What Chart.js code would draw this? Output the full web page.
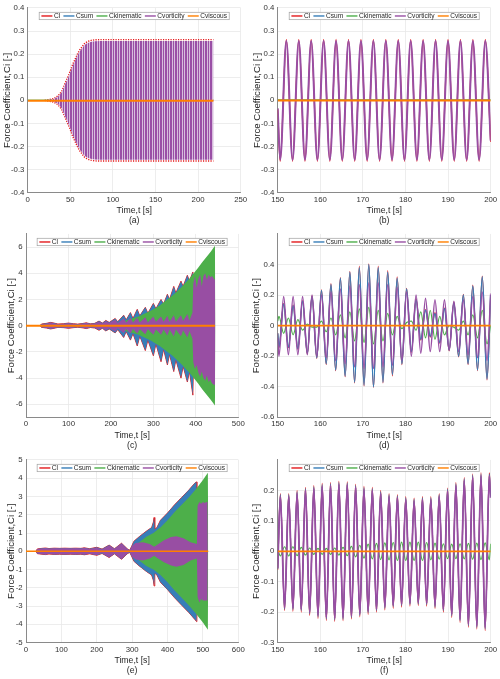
<!DOCTYPE html>
<html><head><meta charset="utf-8">
<script src="https://cdn.jsdelivr.net/npm/chart.js@4.4.0/dist/chart.umd.min.js"></script>
<style>
html,body{margin:0;padding:0;background:#fff;}
body{width:500px;height:679px;position:relative;overflow:hidden;}
canvas{position:absolute;}
</style></head>
<body>
<canvas id="pa"></canvas><canvas id="pb"></canvas>
<canvas id="pc"></canvas><canvas id="pd"></canvas>
<canvas id="pe"></canvas><canvas id="pf"></canvas>
<script>
// ---------------- data ----------------
const seriesNames = ['Cl','Csum','Ckinematic','Cvorticity','Cviscous'];
const seriesColors = ['#e41a1c','#377eb8','#4daf4a','#984ea3','#ff7f00'];

// tick values
const xTicksA = [0,50,100,150,200,250];
const xTicksC = [0,100,200,300,400,500];
const xTicksE = [0,100,200,300,400,500,600];
const xTicksZoom = [150,160,170,180,190,200];
const yTicksAB = [-0.4,-0.3,-0.2,-0.1,0,0.1,0.2,0.3,0.4];
const yTicksC = [-6,-4,-2,0,2,4,6];
const yTicksD = [-0.6,-0.4,-0.2,0,0.2,0.4];
const yTicksE = [-5,-4,-3,-2,-1,0,1,2,3,4,5];
const yTicksF = [-0.3,-0.2,-0.1,0,0.1,0.2];

// (a) envelopes of the dense oscillation
const aTime  = [20,30,34,37,40,44,47.7,50.5,52.8,55.6,58.3,61,63.8,66.5,69.2,72,75.1,78.2,85,218];
const aClUp  = [0,0.007,0.015,0.025,0.04,0.075,0.106,0.132,0.156,0.178,0.2,0.218,0.232,0.245,0.252,0.257,0.26,0.262,0.263,0.263];
const aClLo  = [0,-0.007,-0.015,-0.025,-0.04,-0.075,-0.106,-0.132,-0.156,-0.178,-0.2,-0.218,-0.232,-0.245,-0.252,-0.257,-0.26,-0.262,-0.263,-0.263];
const aVortUp= [0,0.005,0.012,0.021,0.035,0.07,0.1,0.126,0.15,0.172,0.194,0.212,0.226,0.239,0.246,0.251,0.254,0.256,0.257,0.257];
const aVortLo= [0,-0.005,-0.012,-0.021,-0.035,-0.07,-0.1,-0.126,-0.15,-0.172,-0.194,-0.212,-0.226,-0.239,-0.246,-0.251,-0.254,-0.256,-0.257,-0.257];
const aFlatT = [0,218];
const aKin   = [0.001,0.001];
const aVisc  = [-0.002,-0.002];

// (b) extrema 150-200 s
const bTime = [150,150.58,152.03,153.49,154.95,156.40,157.86,159.32,160.78,162.24,163.70,165.16,166.62,168.08,169.54,171.00,172.46,173.92,175.38,176.84,178.30,179.76,181.22,182.68,184.14,185.60,187.06,188.52,189.98,191.44,192.90,194.36,195.82,197.28,198.74,200];
const bCl   = [-0.04,-0.264,0.264,-0.264,0.264,-0.264,0.264,-0.264,0.264,-0.264,0.264,-0.264,0.264,-0.264,0.264,-0.264,0.264,-0.264,0.264,-0.264,0.264,-0.264,0.264,-0.264,0.264,-0.264,0.264,-0.264,0.264,-0.264,0.264,-0.264,0.264,-0.264,0.264,-0.18];
const bVort = [-0.035,-0.257,0.257,-0.257,0.257,-0.257,0.257,-0.257,0.257,-0.257,0.257,-0.257,0.257,-0.257,0.257,-0.257,0.257,-0.257,0.257,-0.257,0.257,-0.257,0.257,-0.257,0.257,-0.257,0.257,-0.257,0.257,-0.257,0.257,-0.257,0.257,-0.257,0.257,-0.175];
const bFlatT = [150,200];
const bKin  = [0.002,0.002];
const bVisc = [-0.001,-0.001];

// (c) envelopes
const cSumT = [33,36,48,58,66,75,88,100,112,122,132,142,152,162,172,180,188,196,210,216,230,236,246,252,262,268,281,287,300,306,318,324,333,338,348,353,365,370,380,385,393,396];
const cSumUp = [0,0.12,0.18,0.25,0.2,0.13,0.15,0.2,0.15,0.12,0.16,0.22,0.14,0.18,0.35,0.2,0.4,0.25,0.55,0.3,0.8,0.45,1.0,0.55,1.25,0.75,1.4,0.95,1.7,1.3,2.0,1.65,2.4,2.0,3.0,2.5,3.4,3.0,3.85,3.4,4.1,0];
const cSumLo = [0,-0.12,-0.18,-0.25,-0.2,-0.13,-0.15,-0.2,-0.15,-0.12,-0.16,-0.22,-0.14,-0.18,-0.35,-0.2,-0.4,-0.25,-0.55,-0.3,-0.9,-0.45,-1.1,-0.6,-1.55,-0.8,-1.9,-1.1,-2.3,-1.4,-2.75,-1.8,-3.0,-2.2,-3.5,-2.6,-4.0,-3.1,-4.3,-3.5,-5.3,0];
const cKinT  = [205,215,225,235,245,255,265,275,285,295,305,315,325,335,345,355,365,375,385,395,405,415,425,435,445,446];
const cKinUp = [0,0.2,0.3,0.4,0.5,0.6,0.7,0.85,1.0,1.15,1.35,1.55,1.8,2.05,2.3,2.6,2.9,3.25,3.6,4.0,4.4,4.85,5.25,5.65,6.1,0];
const cKinLo = [0,-0.2,-0.3,-0.4,-0.5,-0.6,-0.7,-0.85,-1.0,-1.15,-1.35,-1.55,-1.8,-2.05,-2.3,-2.6,-2.9,-3.25,-3.6,-4.0,-4.4,-4.85,-5.25,-5.65,-6.1,0];
const cVortT = [33,36,48,58,66,75,88,100,112,122,132,142,152,162,172,180,188,196,210,216,230,236,246,252,262,268,281,287,300,306,318,324,333,338,348,353,365,370,380,385,392,394,398,402,406,410,414,418,422,426,430,434,438,442,445,446];
const cVortUp = [0,0.1,0.15,0.22,0.17,0.11,0.13,0.18,0.13,0.1,0.14,0.2,0.12,0.16,0.3,0.17,0.33,0.2,0.45,0.2,0.55,0.25,0.6,0.25,0.6,0.25,0.65,0.25,0.7,0.3,0.7,0.3,0.75,0.3,0.8,0.3,0.8,0.35,0.9,0.4,1.0,3.2,3.8,2.9,3.6,3.9,3.0,3.8,4.0,3.5,3.9,3.7,3.8,3.6,3.5,0];
const cVortLo = [0,-0.1,-0.15,-0.22,-0.17,-0.11,-0.13,-0.18,-0.13,-0.1,-0.14,-0.2,-0.12,-0.16,-0.3,-0.17,-0.33,-0.2,-0.45,-0.2,-0.55,-0.25,-0.6,-0.25,-0.6,-0.25,-0.65,-0.25,-0.7,-0.3,-0.7,-0.3,-0.75,-0.3,-0.8,-0.3,-0.8,-0.35,-0.9,-0.4,-1.0,-2.8,-3.3,-3.0,-3.6,-3.9,-3.5,-4.0,-4.2,-3.8,-4.3,-4.1,-4.4,-4.5,-4.5,0];
const cFlatT = [0,445];
const cVisc  = [0,0];

// (d) extrema 150-200 s
const dTime = [150,150.29,151.40,152.51,153.62,154.73,155.84,156.95,158.06,159.17,160.28,161.39,162.50,163.61,164.72,165.83,166.94,168.05,169.16,170.27,171.38,172.49,173.60,174.71,175.82,176.93,178.04,179.15,180.26,181.37,182.48,183.59,184.70,185.81,186.92,188.03,189.14,190.25,191.36,192.47,193.58,194.69,195.80,196.91,198.02,199.13,200];
const dCl   = [-0.05,-0.145,0.145,-0.145,0.135,-0.155,0.165,-0.185,0.195,-0.215,0.235,-0.255,0.275,-0.295,0.315,-0.335,0.355,-0.375,0.39,-0.395,0.405,-0.405,0.39,-0.375,0.36,-0.33,0.32,-0.255,0.245,-0.175,0.175,-0.095,0.105,-0.075,0.085,-0.115,0.115,-0.165,0.155,-0.205,0.205,-0.255,0.265,-0.295,0.325,-0.355,0.2];
const dSum  = [-0.05,-0.14,0.14,-0.14,0.13,-0.15,0.16,-0.18,0.19,-0.21,0.23,-0.25,0.27,-0.29,0.31,-0.33,0.35,-0.37,0.38,-0.39,0.40,-0.40,0.38,-0.37,0.35,-0.32,0.31,-0.25,0.24,-0.17,0.17,-0.09,0.10,-0.07,0.08,-0.11,0.11,-0.16,0.15,-0.20,0.20,-0.25,0.26,-0.29,0.32,-0.35,0.20];
const dKin  = [0.03,0.06,-0.05,0.05,-0.06,0.04,-0.03,0.01,-0.01,-0.01,0.03,-0.04,0.05,-0.06,0.07,-0.08,0.09,-0.10,0.11,-0.11,0.12,-0.12,0.10,-0.10,0.08,-0.06,0.06,-0.02,0.02,0.03,-0.03,0.09,-0.08,0.10,-0.09,0.06,-0.06,0.00,-0.01,-0.03,0.03,-0.06,0.07,-0.08,0.10,-0.12,0.00];
const dVort = [-0.08,-0.20,0.19,-0.19,0.19,-0.19,0.19,-0.19,0.20,-0.20,0.20,-0.21,0.22,-0.23,0.24,-0.25,0.26,-0.27,0.27,-0.28,0.28,-0.28,0.28,-0.27,0.27,-0.26,0.25,-0.23,0.22,-0.20,0.20,-0.18,0.18,-0.17,0.17,-0.17,0.17,-0.16,0.16,-0.17,0.17,-0.19,0.19,-0.21,0.22,-0.23,0.21];
const dFlatT = [150,200];
const dVisc = [0,0];

// (e) envelopes
const eSumT  = [28,32,45,55,65,80,95,110,125,140,155,165,180,200,215,235,250,270,286,293,298,305,320,340,355,360,362,364,370,380,400,420,440,460,478,482,483];
const eSumUp = [0,0.13,0.16,0.18,0.15,0.17,0.16,0.17,0.16,0.17,0.16,0.19,0.14,0.22,0.12,0.34,0.14,0.44,0.14,0.06,0.25,0.55,0.8,1.1,1.3,1.6,1.85,1.2,1.3,1.7,2.1,2.55,2.95,3.35,3.75,3.8,0];
const eSumLo = [0,-0.13,-0.16,-0.18,-0.15,-0.17,-0.16,-0.17,-0.16,-0.17,-0.16,-0.19,-0.14,-0.22,-0.12,-0.34,-0.14,-0.44,-0.14,-0.06,-0.25,-0.55,-0.8,-1.1,-1.3,-1.6,-1.9,-1.2,-1.3,-1.7,-2.1,-2.55,-2.95,-3.35,-3.75,-3.85,0];
const eKinT  = [296,300,305,320,340,360,380,400,420,440,460,480,500,514,515];
const eKinUp = [0,0.1,0.3,0.5,0.8,1.0,1.3,1.7,2.15,2.55,2.95,3.4,3.9,4.3,0];
const eKinLo = [0,-0.1,-0.3,-0.5,-0.8,-1.0,-1.3,-1.7,-2.15,-2.55,-2.95,-3.4,-3.9,-4.3,0];
const eVortT  = [28,32,45,55,65,80,95,110,125,140,155,165,180,200,215,235,250,270,286,293,300,310,330,350,362,370,390,410,425,445,465,478,483,485,490,495,500,505,510,513,514];
const eVortUp = [0,0.12,0.15,0.17,0.14,0.16,0.15,0.16,0.15,0.16,0.15,0.18,0.13,0.2,0.1,0.32,0.12,0.42,0.12,0.04,0.3,0.45,0.5,0.4,0.25,0.35,0.6,0.78,0.82,0.72,0.5,0.42,0.4,2.5,2.7,2.6,2.7,2.65,2.7,2.7,0];
const eVortLo = [0,-0.12,-0.15,-0.17,-0.14,-0.16,-0.15,-0.16,-0.15,-0.16,-0.15,-0.18,-0.13,-0.2,-0.1,-0.32,-0.12,-0.42,-0.12,-0.04,-0.3,-0.45,-0.5,-0.4,-0.25,-0.35,-0.6,-0.78,-0.85,-0.75,-0.5,-0.42,-0.4,-2.5,-2.8,-2.6,-2.7,-2.7,-2.7,-2.7,0];
const eFlatT = [0,515];
const eVisc  = [0,0];

// (f) extrema 150-200 s
const fTime = [150,150.63,151.61,152.59,153.57,154.55,155.53,156.52,157.50,158.48,159.46,160.44,161.42,162.40,163.38,164.36,165.34,166.33,167.31,168.29,169.27,170.25,171.23,172.21,173.19,174.17,175.15,176.14,177.12,178.10,179.08,180.06,181.04,182.02,183.00,183.98,184.96,185.95,186.93,187.91,188.89,189.87,190.85,191.83,192.81,193.79,194.77,195.76,196.74,197.72,198.70,199.68,200];
const fCl   = [-0.06,0.19,-0.195,0.19,-0.197,0.20,-0.20,0.21,-0.21,0.216,-0.22,0.223,-0.227,0.226,-0.23,0.23,-0.228,0.228,-0.222,0.22,-0.215,0.213,-0.207,0.21,-0.20,0.20,-0.192,0.19,-0.187,0.186,-0.183,0.18,-0.18,0.175,-0.178,0.18,-0.18,0.18,-0.188,0.19,-0.20,0.208,-0.217,0.226,-0.233,0.242,-0.249,0.254,-0.255,0.258,-0.26,0.258,0.18];
const fSum  = [-0.058,0.186,-0.19,0.186,-0.192,0.196,-0.195,0.206,-0.205,0.212,-0.215,0.219,-0.222,0.222,-0.225,0.226,-0.223,0.224,-0.217,0.216,-0.21,0.209,-0.202,0.206,-0.195,0.196,-0.187,0.186,-0.182,0.182,-0.178,0.176,-0.175,0.171,-0.173,0.176,-0.175,0.176,-0.183,0.186,-0.195,0.204,-0.212,0.222,-0.228,0.238,-0.244,0.25,-0.25,0.254,-0.255,0.254,0.178];
const fKin  = [0.005,-0.015,0.015,-0.015,0.015,-0.014,0.013,-0.012,0.011,-0.01,0.01,-0.01,0.01,-0.01,0.011,-0.012,0.013,-0.014,0.016,-0.018,0.02,-0.022,0.024,-0.025,0.026,-0.027,0.028,-0.028,0.029,-0.03,0.03,-0.03,0.03,-0.03,0.03,-0.03,0.029,-0.028,0.027,-0.026,0.025,-0.024,0.024,-0.024,0.025,-0.025,0.026,-0.026,0.027,-0.027,0.028,-0.028,0.025];
const fVort = [-0.055,0.18,-0.185,0.18,-0.187,0.19,-0.19,0.2,-0.2,0.206,-0.21,0.213,-0.217,0.216,-0.22,0.22,-0.218,0.218,-0.212,0.21,-0.205,0.203,-0.197,0.2,-0.19,0.19,-0.182,0.18,-0.177,0.176,-0.173,0.17,-0.17,0.165,-0.168,0.17,-0.17,0.17,-0.178,0.18,-0.19,0.198,-0.207,0.216,-0.223,0.232,-0.239,0.244,-0.245,0.248,-0.25,0.248,0.175];
const fFlatT = [150,200];
const fVisc = [0,0];

// ---------------- helpers ----------------
const FONT = "'Liberation Sans', Arial, Helvetica, sans-serif";
const [RED, BLUE, GREEN, PURPLE, ORANGE] = seriesColors;
function P(xs, ys){ return xs.map((x,i)=>({x:x, y:ys[i]})); }
function line(xs, ys, color, w, order, extra){
  return Object.assign({data:P(xs,ys), borderColor:color, backgroundColor:color, borderWidth:w,
    pointRadius:0, fill:false, tension:0, order:order}, extra||{});
}
function smooth(xs, ys, color, w, order){
  return line(xs, ys, color, w, order, {cubicInterpolationMode:'monotone'});
}
function band(xs, up, lo, fillColor, order, border, bw){
  return [
    {data:P(xs,up), borderColor:border||fillColor, borderWidth:bw||0, backgroundColor:fillColor, pointRadius:0, fill:'+1', tension:0, order:order},
    {data:P(xs,lo), borderColor:border||fillColor, borderWidth:bw||0, backgroundColor:fillColor, pointRadius:0, fill:false, tension:0, order:order}
  ];
}
function fmt(v){ return String(+(+v).toFixed(3)); }

const legendPlugin = {
  id:'mlegend',
  afterDraw(chart){
    const ctx = chart.ctx, a = chart.chartArea;
    ctx.save();
    ctx.font = '6.6px ' + FONT;
    const sw = 11, g1 = 1.5, g2 = 3.3, padX = 2.2, h = 7.4;
    const widths = seriesNames.map(n => ctx.measureText(n).width);
    const total = padX*2 + widths.reduce((s,w)=>s+w,0) + seriesNames.length*(sw+g1) + (seriesNames.length-1)*g2;
    const x0 = (a.left + a.right)/2 - total/2, y0 = a.top + 4.3;
    ctx.fillStyle = '#fff'; ctx.fillRect(x0, y0, total, h);
    ctx.strokeStyle = '#a0a0a0'; ctx.lineWidth = 0.7; ctx.strokeRect(x0, y0, total, h);
    let x = x0 + padX; const cy = y0 + h/2;
    seriesNames.forEach((n,i) => {
      ctx.strokeStyle = seriesColors[i]; ctx.lineWidth = 1.4;
      ctx.beginPath(); ctx.moveTo(x, cy); ctx.lineTo(x+sw, cy); ctx.stroke();
      x += sw + g1;
      ctx.fillStyle = '#262626'; ctx.textBaseline = 'middle'; ctx.textAlign = 'left';
      ctx.fillText(n, x, cy + 0.3);
      x += widths[i] + g2;
    });
    ctx.restore();
  }
};

function makeChart(p){
  const cv = document.getElementById(p.id);
  cv.width = p.cw; cv.height = p.ch;
  cv.style.left = p.cx + 'px'; cv.style.top = p.cy + 'px';
  const tickFont = {family:FONT, size:7.8};
  new Chart(cv, {
    type:'line',
    data:{datasets:p.datasets},
    options:{
      responsive:false, animation:false, devicePixelRatio:1,
      layout:{padding:{left:0, top:p.T - p.cy, right:p.cx + p.cw - p.R, bottom:0}},
      plugins:{legend:{display:false}, tooltip:{enabled:false}},
      scales:{
        x:{type:'linear', min:p.xMin, max:p.xMax,
          afterBuildTicks: s => { s.ticks = p.xTicks.map(v => ({value:v})); },
          ticks:{font:tickFont, color:'#333', padding:2.2, maxRotation:0, autoSkip:false, callback:v => fmt(v)},
          grid:{color:'#e8e8e8', lineWidth:0.8, drawTicks:false},
          border:{color:'#8a8a8a', width:1},
          title:{display:true, text:['Time,t [s]', p.label], color:'#262626',
            font:{family:FONT, size:8.7, lineHeight:1.15}, padding:{top:0, bottom:0}},
          afterFit: s => { s.height = p.cy + p.ch - p.B; }
        },
        y:{type:'linear', min:p.yMin, max:p.yMax,
          afterBuildTicks: s => { s.ticks = p.yTicks.map(v => ({value:v})); },
          ticks:{font:tickFont, color:'#333', padding:3.3, autoSkip:false, callback:v => fmt(v)},
          grid:{color:'#e8e8e8', lineWidth:0.8, drawTicks:false},
          border:{color:'#8a8a8a', width:1},
          title:{display:true, text:'Force Coefficient,Ci [-]', color:'#262626',
            font:{family:FONT, size:9.6, lineHeight:1.2}, padding:{top:p.yTitlePad, bottom:0}},
          afterFit: s => { s.width = p.L - p.cx; }
        }
      }
    },
    plugins:[legendPlugin]
  });
}

// stripe pattern for the dense signal in (a)
function stripePattern(){
  const pc = document.createElement('canvas'); pc.width = 5; pc.height = 1;
  const g = pc.getContext('2d');
  g.fillStyle = '#d7bddd'; g.fillRect(0,0,5,1);
  g.fillStyle = '#9a4fa6'; g.fillRect(0,0,2,1); g.fillRect(3,0,1,1);
  return document.getElementById('pa').getContext('2d').createPattern(pc, 'repeat');
}

// ---------------- panels ----------------
makeChart({id:'pa', cx:0, cy:0, cw:250, ch:226, L:27.7, R:240.7, T:6.7, B:192.7, label:'(a)', yTitlePad:1.4,
  xMin:0, xMax:250, xTicks:xTicksA, yMin:-0.4, yMax:0.4, yTicks:yTicksAB,
  datasets:[
    line(aTime, aClUp, RED, 1.4, 5, {borderDash:[1.2,1.3]}),
    line(aTime, aClLo, RED, 1.4, 5, {borderDash:[1.2,1.3]}),
    line(aFlatT, aKin, GREEN, 1, 3),
    ...band(aTime, aVortUp, aVortLo, stripePattern(), 2),
    line(aFlatT, aVisc, ORANGE, 2, 1)
  ]});

makeChart({id:'pb', cx:250, cy:0, cw:250, ch:226, L:277.7, R:490.7, T:6.7, B:192.7, label:'(b)', yTitlePad:1.1,
  xMin:150, xMax:200, xTicks:xTicksZoom, yMin:-0.4, yMax:0.4, yTicks:yTicksAB,
  datasets:[
    smooth(bTime, bCl, RED, 1.3, 5),
    line(bFlatT, bKin, GREEN, 1.2, 3),
    smooth(bTime, bVort, PURPLE, 2.0, 2),
    line(bFlatT, bVisc, ORANGE, 2, 1)
  ]});

makeChart({id:'pc', cx:0, cy:226, cw:250, ch:225, L:26, R:238.3, T:230, B:417.4, label:'(c)', yTitlePad:5.8,
  xMin:0, xMax:500, xTicks:xTicksC, yMin:-7, yMax:7, yTicks:yTicksC,
  datasets:[
    ...band(cSumT, cSumUp, cSumLo, RED, 5, RED, 0.9),
    ...band(cSumT, cSumUp, cSumLo, BLUE, 4),
    ...band(cKinT, cKinUp, cKinLo, GREEN, 3),
    ...band(cVortT, cVortUp, cVortLo, PURPLE, 2),
    line(cFlatT, cVisc, ORANGE, 2, 1)
  ]});

makeChart({id:'pd', cx:250, cy:226, cw:250, ch:225, L:277.7, R:490.7, T:230.7, B:417.3, label:'(d)', yTitlePad:0.8,
  xMin:150, xMax:200, xTicks:xTicksZoom, yMin:-0.6, yMax:0.6, yTicks:yTicksD,
  datasets:[
    smooth(dTime, dCl, RED, 1.1, 5),
    smooth(dTime, dSum, BLUE, 1.5, 4),
    smooth(dTime, dKin, GREEN, 1.2, 3),
    smooth(dTime, dVort, PURPLE, 1.5, 2),
    line(dFlatT, dVisc, ORANGE, 1.6, 1)
  ]});

makeChart({id:'pe', cx:0, cy:452, cw:250, ch:224, L:26, R:238.3, T:456.4, B:642.6, label:'(e)', yTitlePad:5.8,
  xMin:0, xMax:600, xTicks:xTicksE, yMin:-5, yMax:5, yTicks:yTicksE,
  datasets:[
    ...band(eSumT, eSumUp, eSumLo, RED, 5, RED, 0.9),
    ...band(eSumT, eSumUp, eSumLo, BLUE, 4),
    ...band(eKinT, eKinUp, eKinLo, GREEN, 3),
    ...band(eVortT, eVortUp, eVortLo, PURPLE, 2),
    line(eFlatT, eVisc, ORANGE, 1.6, 1)
  ]});

makeChart({id:'pf', cx:250, cy:452, cw:250, ch:224, L:277.7, R:490.7, T:456, B:642.7, label:'(f)', yTitlePad:0.2,
  xMin:150, xMax:200, xTicks:xTicksZoom, yMin:-0.3, yMax:0.3, yTicks:yTicksF,
  datasets:[
    smooth(fTime, fCl, RED, 1.2, 5),
    smooth(fTime, fSum, BLUE, 1.2, 4),
    smooth(fTime, fKin, GREEN, 1.2, 3),
    smooth(fTime, fVort, PURPLE, 1.8, 2),
    line(fFlatT, fVisc, ORANGE, 1.6, 1)
  ]});
</script>
</body></html>
